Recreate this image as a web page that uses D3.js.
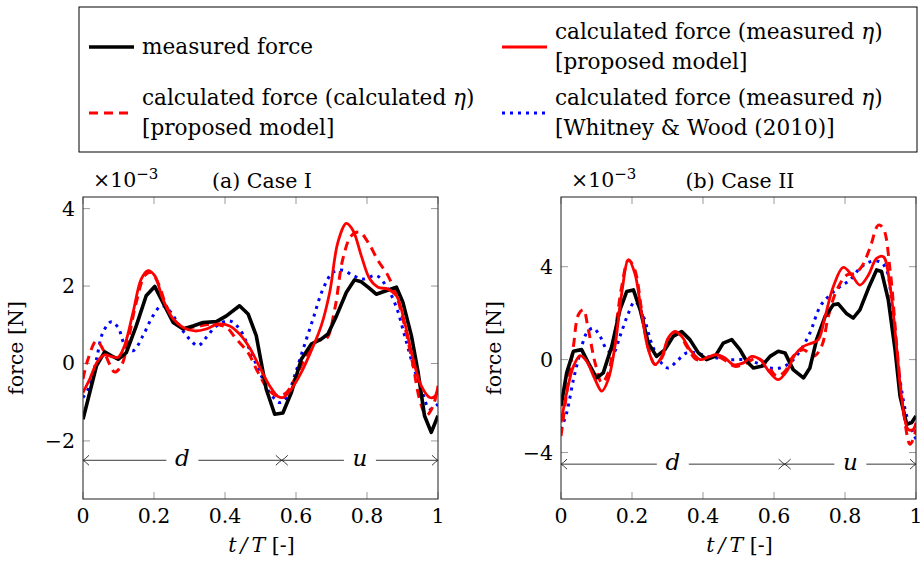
<!DOCTYPE html>
<html><head><meta charset="utf-8">
<script src="https://cdn.jsdelivr.net/npm/d3@7"></script>
<style>
body{margin:0;background:#fff}
svg{display:block}
text{font-family:"DejaVu Serif","Liberation Serif",serif;fill:#000}
</style>
</head><body>
<svg id="c" width="923" height="564"></svg>
<script>
// ---------- data ----------
const xTicks = [0, 0.2, 0.4, 0.6, 0.8, 1];
const yTicksI = [-2, 0, 2, 4];
const yTicksII = [-4, 0, 4];
const yDomainI = [-3.5, 4.3];
const yDomainII = [-6, 7];
const titles = ["(a) Case I", "(b) Case II"];
const phaseSplit = [0.56, 0.63];   // end of downstroke d
const phaseArrowY = [-2.5, -4.5];

// Case I  [t/T, force x1e-3]
const caseI_measured = [[0,-1.44],[0.019,-0.75],[0.038,-0.06],[0.061,0.30],[0.080,0.20],[0.099,0.11],[0.122,0.28],[0.150,0.97],[0.178,1.75],[0.202,1.99],[0.225,1.58],[0.254,1.06],[0.282,0.89],[0.310,0.97],[0.338,1.06],[0.376,1.08],[0.404,1.23],[0.441,1.49],[0.465,1.28],[0.488,0.72],[0.516,-0.66],[0.540,-1.31],[0.563,-1.28],[0.587,-0.75],[0.615,0.11],[0.643,0.50],[0.671,0.63],[0.690,0.76],[0.714,1.23],[0.742,1.84],[0.765,2.16],[0.784,2.11],[0.803,1.97],[0.826,1.79],[0.854,1.88],[0.883,1.97],[0.901,1.58],[0.925,0.72],[0.944,-0.23],[0.962,-1.35],[0.981,-1.78],[1,-1.35]];
const caseI_calcMeasEta = [[0,-0.75],[0.019,-0.40],[0.042,0.07],[0.061,0.22],[0.080,0.18],[0.099,0.16],[0.117,0.46],[0.141,1.32],[0.164,2.18],[0.183,2.40],[0.202,2.27],[0.225,1.66],[0.254,1.15],[0.282,0.93],[0.315,0.84],[0.347,0.89],[0.380,1.02],[0.413,0.97],[0.441,0.76],[0.469,0.41],[0.498,-0.10],[0.526,-0.58],[0.549,-0.85],[0.563,-0.88],[0.587,-0.66],[0.615,-0.23],[0.643,0.33],[0.671,0.97],[0.695,1.84],[0.718,3.13],[0.742,3.62],[0.761,3.43],[0.784,2.78],[0.808,2.18],[0.831,1.97],[0.859,1.92],[0.883,1.75],[0.906,1.06],[0.930,0.11],[0.953,-0.58],[0.977,-0.88],[0.991,-0.85],[1,-0.58]];
const caseI_calcCalcEta = [[0,-0.40],[0.014,0.11],[0.038,0.59],[0.056,0.37],[0.075,-0.02],[0.089,-0.22],[0.108,-0.06],[0.127,0.59],[0.150,1.58],[0.174,2.27],[0.192,2.35],[0.211,2.09],[0.235,1.49],[0.263,1.06],[0.291,0.93],[0.329,0.97],[0.366,1.02],[0.404,0.93],[0.432,0.63],[0.465,0.28],[0.493,-0.23],[0.521,-0.66],[0.549,-0.84],[0.573,-0.75],[0.601,-0.32],[0.629,0.20],[0.657,0.59],[0.685,0.63],[0.709,1.40],[0.732,2.70],[0.756,3.30],[0.779,3.39],[0.803,3.13],[0.831,2.66],[0.859,2.27],[0.883,1.75],[0.906,0.97],[0.930,-0.06],[0.948,-0.92],[0.967,-1.34],[0.986,-1.10],[1,-0.58]];
const caseI_whitney = [[0,-0.88],[0.019,-0.58],[0.038,0.11],[0.056,0.80],[0.080,1.08],[0.099,0.93],[0.117,0.50],[0.141,0.33],[0.169,0.72],[0.197,1.23],[0.221,1.49],[0.244,1.36],[0.272,0.97],[0.300,0.63],[0.324,0.46],[0.347,0.67],[0.376,0.97],[0.413,1.10],[0.441,0.89],[0.469,0.37],[0.498,-0.23],[0.526,-0.75],[0.554,-1.01],[0.573,-0.88],[0.596,-0.32],[0.620,0.37],[0.648,1.15],[0.676,1.92],[0.704,2.35],[0.732,2.41],[0.761,2.27],[0.789,2.18],[0.826,2.27],[0.854,2.00],[0.883,1.45],[0.906,0.72],[0.930,-0.06],[0.953,-0.66],[0.977,-1.18],[1,-1.05]];

// Case II
const caseII_measured = [[0,-2.0],[0.016,-0.57],[0.035,0.36],[0.058,0.43],[0.077,-0.14],[0.100,-0.79],[0.119,-0.57],[0.143,0.57],[0.166,2.14],[0.185,2.93],[0.204,3.0],[0.223,2.14],[0.246,0.71],[0.269,0.14],[0.293,0.43],[0.316,1.0],[0.340,1.21],[0.363,0.86],[0.387,0.29],[0.410,0],[0.434,0.14],[0.457,0.71],[0.481,0.86],[0.504,0.43],[0.523,-0.07],[0.542,-0.36],[0.565,-0.29],[0.589,0.14],[0.612,0.36],[0.631,0.29],[0.654,-0.43],[0.683,-0.79],[0.701,-0.36],[0.720,0.86],[0.744,1.86],[0.767,2.36],[0.781,2.40],[0.805,1.97],[0.823,1.79],[0.842,2.14],[0.866,3.07],[0.889,3.86],[0.903,3.79],[0.922,2.57],[0.941,0.43],[0.955,-1.57],[0.974,-2.79],[0.988,-2.71],[1,-2.43]];
const caseII_calcMeasEta = [[0,-2.71],[0.016,-1.43],[0.035,-0.29],[0.054,0.17],[0.072,-0.07],[0.096,-0.86],[0.115,-1.36],[0.133,-0.86],[0.152,0.57],[0.171,2.86],[0.190,4.29],[0.208,3.71],[0.227,2.0],[0.246,0.43],[0.265,-0.21],[0.284,0.14],[0.302,0.93],[0.321,1.21],[0.340,1.0],[0.363,0.43],[0.392,0],[0.415,0.11],[0.438,0.21],[0.462,0.07],[0.485,-0.21],[0.514,-0.14],[0.537,0.14],[0.561,0],[0.589,-0.57],[0.612,-0.86],[0.636,-0.5],[0.659,0.21],[0.683,0.57],[0.706,0.71],[0.725,0.86],[0.744,1.86],[0.767,3.14],[0.795,3.97],[0.819,3.64],[0.842,3.21],[0.866,3.64],[0.889,4.36],[0.908,4.43],[0.927,3.14],[0.946,0.43],[0.960,-1.71],[0.978,-3.0],[0.992,-3.0],[1,-2.71]];
const caseII_calcCalcEta = [[0,-3.29],[0.016,-1.43],[0.035,0.57],[0.049,1.93],[0.063,2.14],[0.077,1.29],[0.096,-0.14],[0.115,-1.0],[0.133,-0.57],[0.152,1.14],[0.171,3.14],[0.190,4.29],[0.208,3.86],[0.227,2.14],[0.246,0.5],[0.265,-0.21],[0.284,0.07],[0.307,1.0],[0.331,1.14],[0.354,0.57],[0.382,0],[0.410,0.07],[0.438,0.14],[0.467,-0.07],[0.490,-0.29],[0.523,-0.14],[0.551,0.07],[0.579,-0.21],[0.608,-0.71],[0.631,-0.5],[0.654,0.14],[0.683,0.43],[0.711,0.14],[0.734,0.57],[0.753,1.86],[0.777,3.0],[0.805,3.64],[0.828,3.71],[0.847,4.0],[0.870,4.79],[0.894,5.79],[0.908,5.64],[0.927,3.86],[0.946,0.57],[0.964,-2.14],[0.983,-3.64],[0.992,-3.43],[1,-3.0]];
const caseII_whitney = [[0,-3.0],[0.016,-2.29],[0.035,-0.86],[0.054,0.29],[0.072,1.14],[0.091,1.36],[0.110,1.0],[0.129,0.43],[0.147,0.29],[0.166,1.0],[0.190,2.0],[0.208,2.5],[0.232,1.86],[0.255,0.71],[0.279,-0.07],[0.302,-0.36],[0.326,-0.07],[0.354,0.29],[0.382,0.29],[0.410,0.14],[0.443,0.07],[0.476,0],[0.514,0],[0.551,-0.14],[0.589,-0.36],[0.617,-0.36],[0.645,-0.14],[0.673,0.36],[0.701,1.14],[0.730,2.29],[0.758,2.79],[0.786,3.14],[0.814,3.43],[0.842,3.93],[0.870,4.21],[0.899,4.21],[0.917,3.86],[0.936,1.71],[0.955,-0.86],[0.974,-2.43],[0.992,-3.14],[1,-3.43]];

// ---------- styles ----------
const styles = {
  measured: {color:"#000", width:3.6, dash:null, curve:d3.curveLinear},
  calcMeasEta: {color:"#ff0000", width:2.8, dash:null, curve:d3.curveCatmullRom},
  calcCalcEta: {color:"#ff0000", width:3, dash:"9,6", curve:d3.curveCatmullRom},
  whitney: {color:"#0000ff", width:3, dash:"3,5", curve:d3.curveCatmullRom}
};
const AX_FS = 20.5, LEG_FS = 21.6;

const svg = d3.select("#c");
const fmtMinus = v => (v < 0 ? "\u2212" + Math.abs(v) : String(v));

function drawPanel(i, x0, x1, yDomain, yTicks, series) {
  const top = 197, bottom = 499;
  const x = d3.scaleLinear().domain([0,1]).range([x0,x1]);
  const y = d3.scaleLinear().domain(yDomain).range([bottom, top]);
  const g = svg.append("g");
  const clipId = "clip" + i;
  svg.append("clipPath").attr("id", clipId).append("rect")
    .attr("x", x0).attr("y", top).attr("width", x1-x0).attr("height", bottom-top);

  // ticks (inside, mirrored)
  const tk = g.append("g").attr("stroke","#9a9a9a").attr("stroke-width",1);
  xTicks.forEach(t => {
    tk.append("line").attr("x1",x(t)).attr("x2",x(t)).attr("y1",bottom).attr("y2",bottom-7);
    tk.append("line").attr("x1",x(t)).attr("x2",x(t)).attr("y1",top).attr("y2",top+7);
  });
  yTicks.forEach(v => {
    tk.append("line").attr("x1",x0).attr("x2",x0+7).attr("y1",y(v)).attr("y2",y(v));
    tk.append("line").attr("x1",x1).attr("x2",x1-7).attr("y1",y(v)).attr("y2",y(v));
  });

  // lines
  const lg = g.append("g").attr("clip-path", `url(#${clipId})`);
  const order = ["whitney","calcCalcEta","measured","calcMeasEta"];
  order.forEach(k => {
    const st = styles[k];
    const line = d3.line().x(d => x(d[0])).y(d => y(d[1])).curve(st.curve);
    lg.append("path").datum(series[k]).attr("d", line)
      .attr("fill","none").attr("stroke", st.color).attr("stroke-width", st.width)
      .attr("stroke-dasharray", st.dash).attr("stroke-linejoin","round");
  });

  // phase arrows
  const ay = y(phaseArrowY[i]);
  const xs = x(phaseSplit[i]);
  const ag = g.append("g").attr("stroke","#222").attr("stroke-width",0.9).attr("fill","none");
  ag.append("line").attr("x1",x(0)).attr("x2",x(1)).attr("y1",ay).attr("y2",ay);
  const head = (px, dir) => ag.append("path")
    .attr("d", `M${px - dir*6},${ay-5} Q${px - dir*2},${ay-1} ${px},${ay} Q${px - dir*2},${ay+1} ${px - dir*6},${ay+5}`);
  head(x(0), -1); head(xs, 1); head(xs, -1); head(x(1), 1);
  [["d", (0 + phaseSplit[i]) / 2], ["u", (phaseSplit[i] + 1) / 2]].forEach(([lab, t]) => {
    g.append("rect").attr("x", x(t)-16).attr("y", ay-12).attr("width",32).attr("height",24).attr("fill","#fff");
    g.append("text").attr("x", x(t)).attr("y", ay+6).attr("text-anchor","middle")
      .attr("font-style","italic").attr("font-size",23).text(lab);
  });

  // frame
  g.append("rect").attr("x",x0).attr("y",top).attr("width",x1-x0).attr("height",bottom-top)
    .attr("fill","none").attr("stroke","#333").attr("stroke-width",1.1);

  // tick labels
  xTicks.forEach(t => {
    g.append("text").attr("x", x(t)).attr("y", 523).attr("text-anchor","middle")
      .attr("font-size",AX_FS).text(String(t));
  });
  yTicks.forEach(v => {
    g.append("text").attr("x", x0-8).attr("y", y(v)+7).attr("text-anchor","end")
      .attr("font-size",AX_FS).text(fmtMinus(v));
  });

  // scale label ×10^-3
  const sc = g.append("text").attr("x", x0+10).attr("y", 187).attr("font-size",AX_FS);
  sc.append("tspan").text("\u00d710");
  sc.append("tspan").attr("dy",-8).attr("font-size",15).text("\u22123");

  // title
  g.append("text").attr("x", (x0+x1)/2 + 1.5).attr("y", 188).attr("text-anchor","middle")
    .attr("font-size",AX_FS).text(titles[i]);

  // axis labels
  const xl = g.append("text").attr("x", (x0+x1)/2 + 1).attr("y", 552).attr("text-anchor","middle").attr("font-size",AX_FS);
  xl.append("tspan").attr("font-style","italic").text("t\u2009/\u2009T");
  xl.append("tspan").text(" [-]");
  g.append("text").attr("transform", `translate(${x0-60},${(top+bottom)/2}) rotate(-90)`)
    .attr("text-anchor","middle").attr("font-size",AX_FS).text("force [N]");
}

drawPanel(0, 83, 438, yDomainI, yTicksI, {
  measured: caseI_measured, calcMeasEta: caseI_calcMeasEta,
  calcCalcEta: caseI_calcCalcEta, whitney: caseI_whitney
});
drawPanel(1, 561, 916, yDomainII, yTicksII, {
  measured: caseII_measured, calcMeasEta: caseII_calcMeasEta,
  calcCalcEta: caseII_calcCalcEta, whitney: caseII_whitney
});

// ---------- legend ----------
const legendEntries = [
  {key:"measured", lines:[["measured force"]], col:0, row:0},
  {key:"calcMeasEta", lines:[["calculated force (measured ", "\u03b7", ")"], ["[proposed model]"]], col:1, row:0},
  {key:"calcCalcEta", lines:[["calculated force (calculated ", "\u03b7", ")"], ["[proposed model]"]], col:0, row:1},
  {key:"whitney", lines:[["calculated force (measured ", "\u03b7", ")"], ["[Whitney & Wood (2010)]"]], col:1, row:1}
];
const lgd = svg.append("g");
lgd.append("rect").attr("x",79).attr("y",7).attr("width",838).attr("height",145)
  .attr("fill","#fff").attr("stroke","#000").attr("stroke-width",1);
const colX = [89, 502];
const rowY = [47, 113];
legendEntries.forEach(e => {
  const st = styles[e.key];
  const sx = colX[e.col], sy = rowY[e.row];
  lgd.append("line").attr("x1",sx).attr("x2",sx+45).attr("y1",sy).attr("y2",sy)
    .attr("stroke",st.color).attr("stroke-width",st.width).attr("stroke-dasharray",st.dash);
  const n = e.lines.length;
  e.lines.forEach((parts, li) => {
    const by = sy + 7 + (li - (n-1)/2) * 30;
    const t = lgd.append("text").attr("x", sx+53).attr("y", by).attr("font-size",LEG_FS);
    parts.forEach((p, pi) => {
      const ts = t.append("tspan").text(p);
      if (p === "\u03b7") ts.attr("font-style","italic");
    });
  });
});
</script>
</body></html>
